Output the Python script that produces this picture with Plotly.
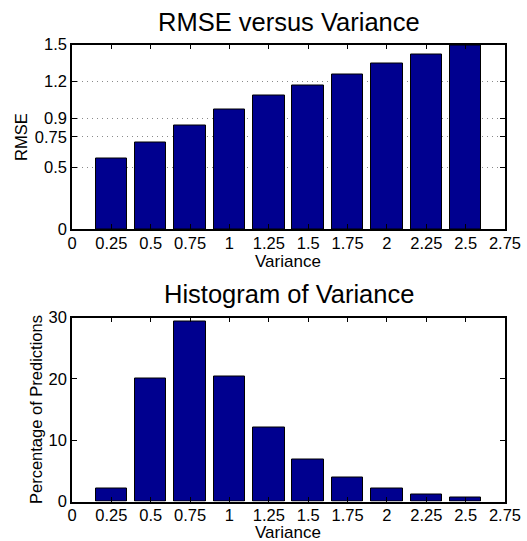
import plotly.graph_objects as go

variance = [0.25, 0.5, 0.75, 1.0, 1.25, 1.5, 1.75, 2.0, 2.25, 2.5]
rmse = [0.574, 0.704, 0.842, 0.969, 1.088, 1.170, 1.257, 1.343, 1.422, 1.495]
pct_predictions = [2.2, 20.0, 29.4, 20.4, 12.1, 6.9, 3.9, 2.2, 1.2, 0.6]

x_tickvals = [0, 0.25, 0.5, 0.75, 1.0, 1.25, 1.5, 1.75, 2.0, 2.25, 2.5, 2.75]
x_ticktext = ["0", "0.25", "0.5", "0.75", "1", "1.25", "1.5", "1.75", "2", "2.25", "2.5", "2.75"]
rmse_ticks = [0, 0.5, 0.75, 0.9, 1.2, 1.5]
rmse_ticktext = ["0", "0.5", "0.75", "0.9", "1.2", "1.5"]
pct_ticks = [0, 10, 20, 30]

BAR = "#00008F"
FONT = "Liberation Sans, Arial, Helvetica, sans-serif"
W, H = 527, 541

fig = go.Figure()
fig.add_trace(go.Bar(x=variance, y=rmse, width=0.2, marker=dict(color=BAR, line=dict(color="black", width=1)),
                     xaxis="x", yaxis="y", showlegend=False))
fig.add_trace(go.Bar(x=variance, y=pct_predictions, width=0.2, marker=dict(color=BAR, line=dict(color="black", width=1)),
                     xaxis="x2", yaxis="y2", showlegend=False))

xd = [72 / W, 505 / W]
top_dom = [1 - 229 / H, 1 - 44.5 / H]
bot_dom = [1 - 501.5 / H, 1 - 317.5 / H]

axis_common = dict(showline=True, linecolor="black", linewidth=1.5, mirror="ticks", ticks="inside",
                   ticklen=5, tickcolor="black", tickwidth=1,
                   tickfont=dict(size=16.5, color="black", family=FONT),
                   zeroline=False, automargin=False)

fig.update_layout(
    template="none",
    width=W, height=H, autosize=False, margin=dict(l=0, r=0, t=0, b=0, pad=0),
    paper_bgcolor="white", plot_bgcolor="white",
    font=dict(family=FONT, color="black"),
    bargap=0,
    xaxis=dict(domain=xd, range=[0, 2.75], tickvals=x_tickvals, ticktext=x_ticktext, anchor="y",
               showgrid=False, ticklabelstandoff=-2, **axis_common),
    yaxis=dict(domain=top_dom, range=[0, 1.5], tickvals=rmse_ticks, ticktext=rmse_ticktext, anchor="x",
               showgrid=True, gridcolor="#8a8a8a", griddash="1px,4px", gridwidth=1, **axis_common),
    xaxis2=dict(domain=xd, range=[0, 2.75], tickvals=x_tickvals, ticktext=x_ticktext, anchor="y2",
                showgrid=False, ticklabelstandoff=-2, **axis_common),
    yaxis2=dict(domain=bot_dom, range=[0, 30], tickvals=pct_ticks, anchor="x2",
                showgrid=False, **axis_common),
)

def ann(text, x, y, size, angle=0):
    fig.add_annotation(text=text, x=x / W, y=1 - y / H, xref="paper", yref="paper",
                       showarrow=False, xanchor="center", yanchor="middle",
                       textangle=angle, font=dict(size=size, family=FONT, color="black"))

ann("RMSE versus Variance", 289, 22, 25.5)
ann("Histogram of Variance", 289, 294, 25.5)
ann("Variance", 288, 261, 17)
ann("Variance", 288, 532, 17)
ann("RMSE", 21, 137, 16.5, -90)
ann("Percentage of Predictions", 36, 410, 16.5, -90)

fig.write_html("out.html")
